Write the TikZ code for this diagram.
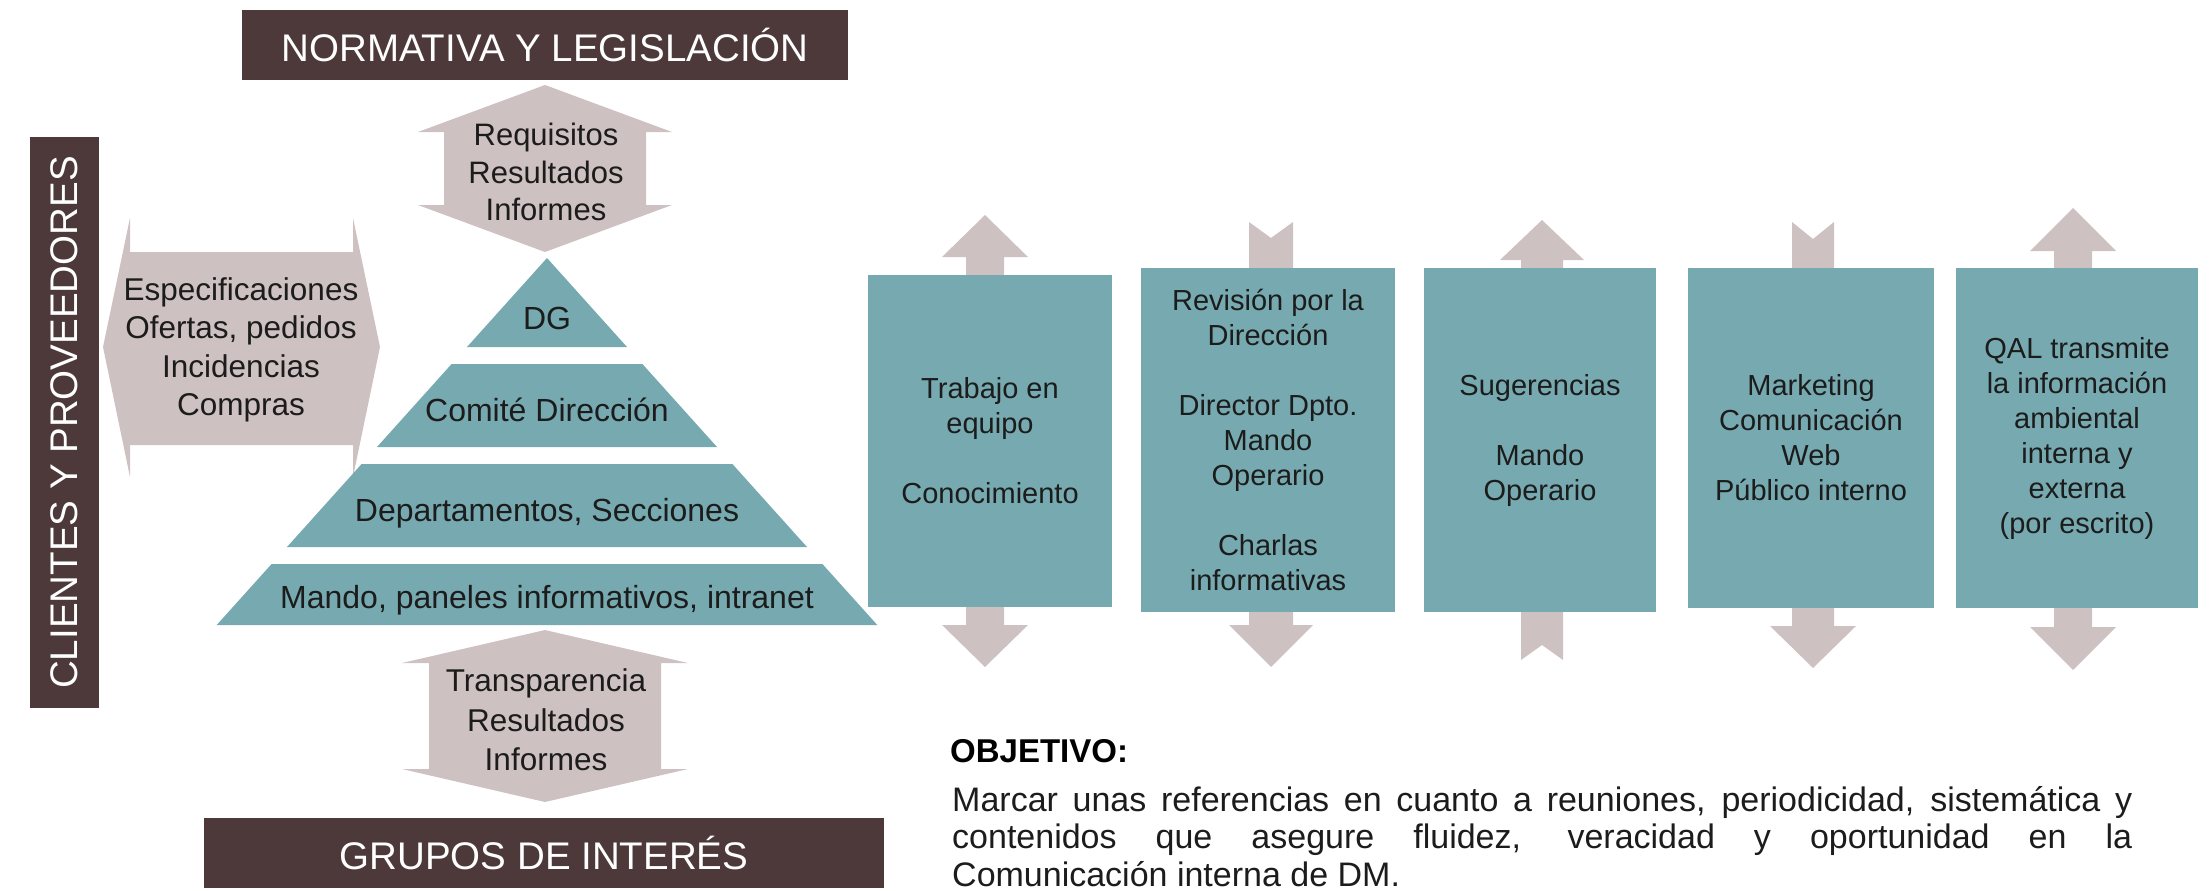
\documentclass[tikz,border=0pt]{standalone}
\usepackage{fontspec}
\setmainfont{Liberation Sans}
\definecolor{hdrbrown}{RGB}{77,57,58}
\definecolor{pyrteal}{RGB}{118,170,176}
\definecolor{flowgrey}{RGB}{206,193,193}
\definecolor{inktext}{RGB}{28,28,28}
% vertical double block arrow: cx, ytop, ybot, head half width, shaft half width, head length
\newcommand\arrDbl[6]{%
  \fill[flowgrey] (#1,#2) -- ({#1+#4},{#2+#6}) -- ({#1+#5},{#2+#6}) -- ({#1+#5},{#3-#6})
    -- ({#1+#4},{#3-#6}) -- (#1,#3) -- ({#1-#4},{#3-#6}) -- ({#1-#5},{#3-#6})
    -- ({#1-#5},{#2+#6}) -- ({#1-#4},{#2+#6}) -- cycle;}
% downward block arrow with notched tail: cx, ytail, ytip, head half, shaft half, head length, notch
\newcommand\arrDown[7]{%
  \fill[flowgrey] ({#1-#5},#2) -- (#1,{#2+#7}) -- ({#1+#5},#2) -- ({#1+#5},{#3-#6})
    -- ({#1+#4},{#3-#6}) -- (#1,#3) -- ({#1-#4},{#3-#6}) -- ({#1-#5},{#3-#6}) -- cycle;}
% upward block arrow with notched tail: cx, ytip, ytail, head half, shaft half, head length, notch
\newcommand\arrUp[7]{%
  \fill[flowgrey] (#1,#2) -- ({#1+#4},{#2+#6}) -- ({#1+#5},{#2+#6}) -- ({#1+#5},#3)
    -- (#1,{#3-#7}) -- ({#1-#5},#3) -- ({#1-#5},{#2+#6}) -- ({#1-#4},{#2+#6}) -- cycle;}
\begin{document}
\begin{tikzpicture}[x=1pt,y=-1pt,
  hdrbox/.style={fill=hdrbrown,text=white,inner sep=0pt,font=\fontsize{38.5}{44}\selectfont},
  pyrtext/.style={text=inktext,inner sep=0pt,font=\fontsize{32}{36}\selectfont},
  infobox/.style={fill=pyrteal,text=inktext,inner sep=0pt,align=center,font=\fontsize{29}{35}\selectfont},
  flowtext/.style={text=inktext,inner sep=0pt,align=center},
  pyrlevel/.style={fill=pyrteal}
]
\useasboundingbox (0,0) rectangle (2209,891);

% ---- header bars ----
\node[hdrbox,minimum width=606,minimum height=70] (norm) at (545,45) {NORMATIVA Y LEGISLACIÓN};
\node[hdrbox,minimum width=680,minimum height=70] (grupos) at (544,853) {GRUPOS DE INTERÉS};
\node[hdrbox,rotate=90,minimum width=571,minimum height=69] (clientes) at (64.5,422.5) {CLIENTES Y PROVEEDORES};

% ---- left horizontal double arrow ----
\fill[flowgrey] (103,347) -- (130,218) -- (130,252) -- (353,252) -- (353,218) -- (380,347)
  -- (353,477) -- (353,445) -- (130,445) -- (130,477) -- cycle;
\node[flowtext,font=\fontsize{31.5}{38.5}\selectfont] (espec) at (241,350)
  {Especificaciones\\Ofertas, pedidos\\Incidencias\\Compras};

% ---- top and bottom vertical double arrows ----
\arrDbl{545}{85}{252}{127}{101}{47}
\node[flowtext,font=\fontsize{31}{37.5}\selectfont] (requis) at (546,172)
  {Requisitos\\Resultados\\Informes};
\arrDbl{545}{630}{802}{143}{116}{33}
\node[flowtext,font=\fontsize{31.5}{39.5}\selectfont] (transp) at (546,720)
  {Transparencia\\Resultados\\Informes};

% ---- pyramid ----
\fill[pyrlevel] (547,258) -- (627,347) -- (467,347) -- cycle;
\node[pyrtext,anchor=base] (dg) at (547,329) {DG};
\fill[pyrlevel] (451.6,364) -- (642.4,364) -- (717,447) -- (377,447) -- cycle;
\node[pyrtext,anchor=base] (comite) at (547,421) {Comité Dirección};
\fill[pyrlevel] (361.6,464) -- (732.4,464) -- (807,547) -- (287,547) -- cycle;
\node[pyrtext,anchor=base] (deptos) at (547,521) {Departamentos, Secciones};
\fill[pyrlevel] (271.6,564) -- (822.4,564) -- (877.3,625) -- (216.7,625) -- cycle;
\node[pyrtext,anchor=base] (mando) at (547,608) {Mando, paneles informativos, intranet};

% ---- arrows behind the right-hand boxes ----
\arrDbl{985}{215}{667}{43}{19}{42}
\arrDown{1271}{222}{667}{42}{22}{42}{16}
\arrUp{1542}{220}{660}{42}{21}{40}{15}
\arrDown{1813}{222}{668}{43}{21}{42}{17}
\arrDbl{2073}{208}{670}{43}{19}{43}

% ---- right-hand boxes ----
\node[infobox,minimum width=244,minimum height=332] (trabajo) at (990,441)
  {Trabajo en\\equipo\\[35pt]Conocimiento};
\node[infobox,minimum width=254,minimum height=344] (revision) at (1268,440)
  {Revisión por la\\Dirección\\[35pt]Director Dpto.\\Mando\\Operario\\[35pt]Charlas\\informativas};
\node[infobox,minimum width=232,minimum height=344] (sugerencias) at (1540,440)
  {Sugerencias\\[35pt]Mando\\Operario};
\node[infobox,minimum width=246,minimum height=340] (marketing) at (1811,438)
  {Marketing\\Comunicación\\Web\\Público interno};
\node[infobox,minimum width=242,minimum height=340] (qal) at (2077,438)
  {QAL transmite\\la información\\ambiental\\interna y\\externa\\(por escrito)};

% ---- objective ----
\node[anchor=base west,inner sep=0pt,text=black,font=\bfseries\fontsize{33}{38}\selectfont] (objetivo) at (950,762) {OBJETIVO:};
\node[anchor=north west,inner sep=0pt,text=inktext,text width=1180,align=justify,
  font=\fontsize{34}{37.5}\selectfont] (marcar) at (952,786)
  {Marcar unas referencias en cuanto a reuniones, periodicidad, sistemática y\linebreak
   contenidos que asegure fluidez, veracidad y oportunidad en la\linebreak
   Comunicación interna de DM.};
\end{tikzpicture}
\end{document}
